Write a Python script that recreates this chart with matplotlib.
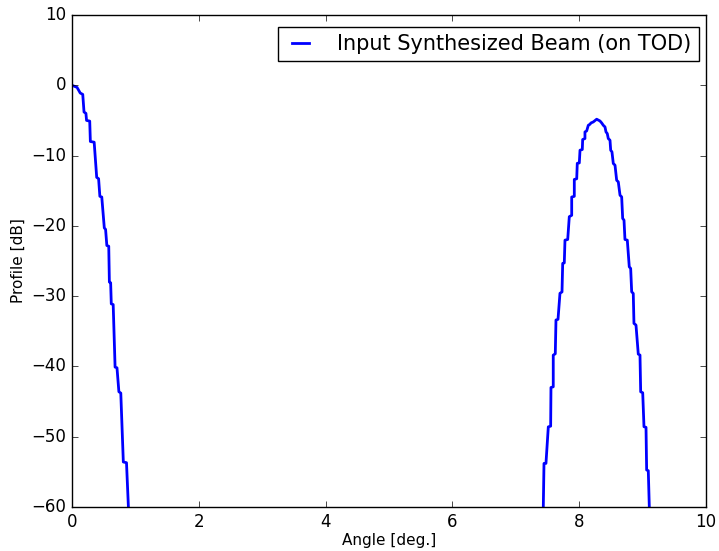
import matplotlib as mpl
mpl.use('Agg')
import matplotlib.pyplot as plt
import numpy as np

# staircase vertices (angle in deg, profile in dB)
left_angle = [0.00, 0.08, 0.13, 0.17, 0.19, 0.22, 0.23, 0.28, 0.29, 0.35,
              0.39, 0.42, 0.44, 0.47, 0.51, 0.53, 0.55, 0.58, 0.59, 0.61,
              0.62, 0.65, 0.68, 0.71, 0.74, 0.77, 0.81, 0.86, 0.89, 0.92]
left_db = [0.0, -0.3, -1.1, -1.3, -3.8, -4.0, -5.0, -5.1, -8.0, -8.1,
           -13.1, -13.3, -15.8, -15.9, -20.3, -20.5, -22.8, -22.9, -28.0, -28.1,
           -31.1, -31.2, -40.1, -40.2, -43.6, -43.8, -53.6, -53.7, -60.0, -75.0]

right_angle = [7.42, 7.434, 7.445, 7.476, 7.513, 7.550, 7.555, 7.591, 7.591, 7.623,
               7.634, 7.666, 7.697, 7.729, 7.740, 7.765, 7.776, 7.819, 7.844, 7.882,
               7.882, 7.923, 7.923, 7.961, 7.970, 8.002, 8.013, 8.049, 8.055, 8.091,
               8.091, 8.118, 8.144, 8.170, 8.186, 8.222, 8.276,
               8.328, 8.355, 8.380, 8.407, 8.423, 8.443, 8.459, 8.486, 8.497, 8.517,
               8.538, 8.565, 8.591, 8.617, 8.644, 8.670, 8.686, 8.707, 8.722, 8.759,
               8.790, 8.812, 8.828, 8.853, 8.864, 8.896, 8.932, 8.959, 8.970, 9.002,
               9.022, 9.054, 9.064, 9.090, 9.106, 9.12]
right_db = [-75.0, -60.0, -53.8, -53.8, -48.6, -48.5, -43.0, -42.9, -38.4, -38.2,
            -33.4, -33.3, -29.6, -29.4, -25.35, -25.27, -22.04, -21.94, -18.7, -18.5,
            -15.9, -15.8, -13.4, -13.3, -11.1, -11.05, -9.24, -9.14, -7.72, -7.58,
            -6.64, -6.50, -5.69, -5.55, -5.36, -5.22, -4.83,
            -5.08, -5.36, -5.69, -5.93, -6.64, -6.87, -7.58, -7.82, -9.24, -9.48,
            -11.13, -11.37, -13.51, -13.75, -15.64, -15.88, -18.95, -19.19, -21.94, -22.04,
            -25.83, -26.06, -29.39, -29.62, -33.88, -34.12, -38.25, -38.39, -43.61, -43.75,
            -48.58, -48.67, -54.74, -54.84, -60.0, -75.0]

angle = np.array(left_angle + right_angle)
profile = np.array(left_db + right_db)

plt.style.use('classic')
mpl.rcParams['figure.facecolor'] = 'white'
mpl.rcParams['savefig.facecolor'] = 'white'

fig = plt.figure(figsize=(7.19, 5.51), dpi=100)
ax = fig.add_axes([0.1001, 0.0799, 0.8818, 0.8929])
ax.plot(angle, profile, color='b', lw=2, label='Input Synthesized Beam (on TOD)')
ax.set_xlim(0, 10)
ax.set_ylim(-60, 10)
ax.set_xlabel('Angle [deg.]', fontsize=11, labelpad=2)
ax.set_ylabel('Profile [dB]', fontsize=11, labelpad=4)
ax.legend(loc='upper right', bbox_to_anchor=(0.989, 0.976), borderaxespad=0,
          fontsize=15, handlelength=1.45, borderpad=0.35, handletextpad=1.05)

fig.savefig('out.png', dpi=100)
